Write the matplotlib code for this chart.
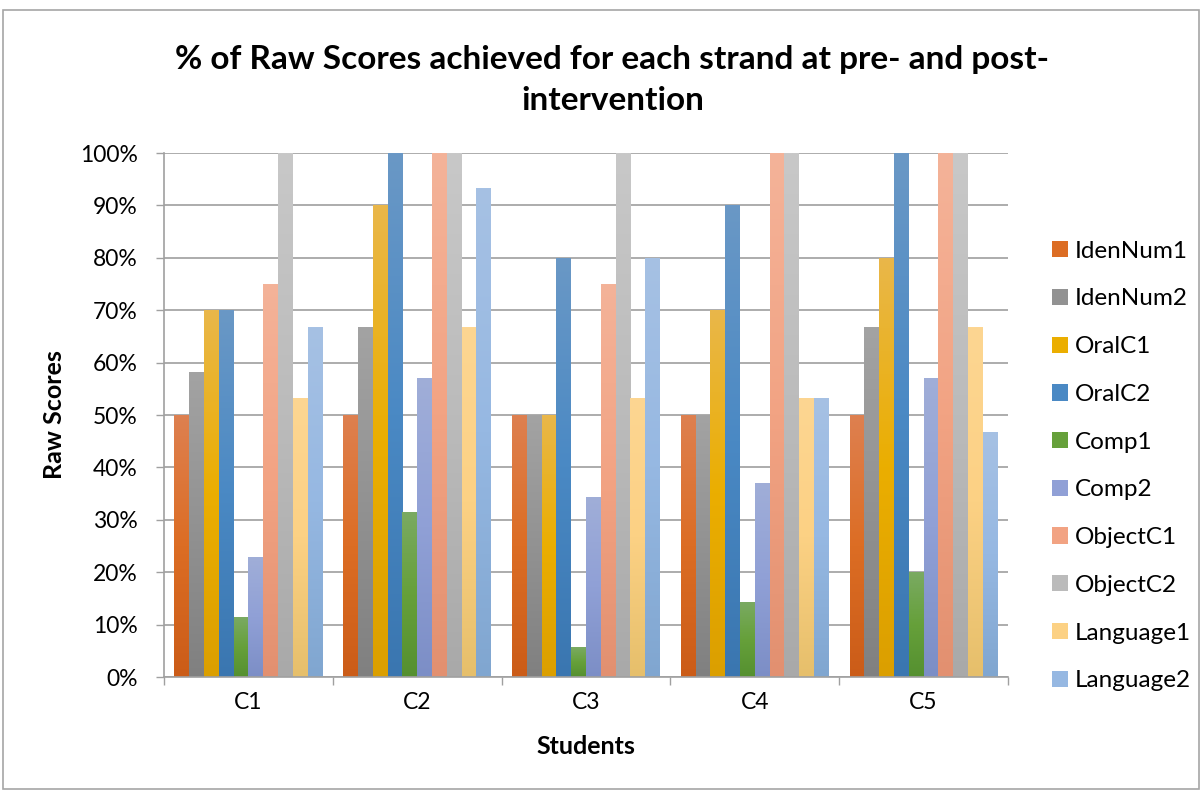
import numpy as np
import matplotlib
matplotlib.use('Agg')
import matplotlib.pyplot as plt
from matplotlib.colors import LinearSegmentedColormap
from matplotlib.patches import Patch, Rectangle

plt.rcParams['font.family'] = ['Lato', 'DejaVu Sans']

# data (percent)
students = ['C1', 'C2', 'C3', 'C4', 'C5']
strands = ['IdenNum1', 'IdenNum2', 'OralC1', 'OralC2', 'Comp1',
           'Comp2', 'ObjectC1', 'ObjectC2', 'Language1', 'Language2']
iden_num1 = [50, 50, 50, 50, 50]
iden_num2 = [58.3, 66.7, 50, 50, 66.7]
oral_c1 = [70, 90, 50, 70, 80]
oral_c2 = [70, 100, 80, 90, 100]
comp1 = [11.4, 31.4, 5.7, 14.3, 20]
comp2 = [22.9, 57.1, 34.3, 37.1, 57.1]
object_c1 = [75, 100, 75, 100, 100]
object_c2 = [100, 100, 100, 100, 100]
language1 = [53.3, 66.7, 53.3, 53.3, 66.7]
language2 = [66.7, 93.3, 80, 53.3, 46.7]
series = [iden_num1, iden_num2, oral_c1, oral_c2, comp1,
          comp2, object_c1, object_c2, language1, language2]

# (top, middle, bottom) colours of the Excel gradient fills
mid_cols = ['#DC6D24', '#929292', '#EBAE00', '#4A89C4', '#66A03A',
            '#90A0D6', '#F2A383', '#BBBBBB', '#FCD184', '#96B8E2']
top_cols = ['#DE8050', '#A3A3A3', '#E9B74A', '#6A98C6', '#7AAA62',
            '#A0AED8', '#F4B399', '#C8C8C8', '#FDD692', '#A6C1E4']
bot_cols = ['#CB5C18', '#808080', '#DB9F00', '#3A76B0', '#559030',
            '#7C8EC6', '#E29070', '#A9A9A9', '#E6BF6B', '#80A6D0']

fig = plt.figure(figsize=(12.03, 7.91), dpi=100)
ax = fig.add_axes([164/1203, 1-677/791, (1008-164)/1203, (677-153)/791])

x = np.arange(len(students))
n = len(series)
w = 0.876 / n
grad = np.linspace(0, 1, 256).reshape(-1, 1)
for i, vals in enumerate(series):
    cmap = LinearSegmentedColormap.from_list('g%d' % i, [bot_cols[i], mid_cols[i], top_cols[i]])
    xs = x - 0.438 + w*(i + 0.5)
    bars = ax.bar(xs, vals, w, color='none', linewidth=0, zorder=2)
    for b, xc, v in zip(bars, xs, vals):
        im = ax.imshow(grad, cmap=cmap, origin='lower', aspect='auto',
                       extent=[xc - w/2, xc + w/2, 0, v], zorder=2,
                       interpolation='bilinear')
        im.set_clip_path(b)

ax.set_xlim(-0.5, len(students) - 0.5)
ax.set_ylim(0, 100)
ax.set_aspect('auto')
ax.set_yticks(np.arange(0, 101, 10))
ax.set_yticklabels(['%d%%' % v for v in range(0, 101, 10)])
ax.set_xticks(x)
ax.set_xticklabels(students)
ax.set_xticks(np.arange(-0.5, len(students)), minor=True)
ax.tick_params(axis='x', which='major', length=0, pad=11, labelsize=16.5)
ax.tick_params(axis='x', which='minor', length=6, width=1, color='#A0A0A0')
ax.tick_params(axis='y', length=6, width=1, color='#A0A0A0', pad=13, labelsize=16.5)
ax.grid(axis='y', color='#A6A6A6', linewidth=1.3, zorder=0)
ax.set_axisbelow(True)
for s in ['top', 'right']:
    ax.spines[s].set_visible(False)
for s in ['left', 'bottom']:
    ax.spines[s].set_color('#A0A0A0')
    ax.spines[s].set_linewidth(1.2)

ax.set_xlabel('Students', fontsize=18, fontweight='bold', labelpad=16)
ax.set_ylabel('Raw Scores', fontsize=18, fontweight='bold', labelpad=10)

fig.text(0.509, 1-60/791, '% of Raw Scores achieved for each strand at pre- and post-',
         ha='center', va='center', fontsize=24, fontweight='bold')
fig.text(0.509, 1-100/791, 'intervention',
         ha='center', va='center', fontsize=24, fontweight='bold')

handles = [Patch(facecolor=mid_cols[i], label=strands[i]) for i in range(n)]
fig.legend(handles=handles, loc='upper left', bbox_to_anchor=(1042/1203, 1-231/791),
           frameon=False, fontsize=17.5, handlelength=0.65, handleheight=0.65,
           handletextpad=0.3, labelspacing=1.1, borderaxespad=0)

fig.patches.append(Rectangle((3/1203, 2/791), 1196/1203, 779/791, transform=fig.transFigure,
                             fill=False, edgecolor='#A6A6A6', linewidth=1.2))

fig.savefig('out.png', dpi=100)
